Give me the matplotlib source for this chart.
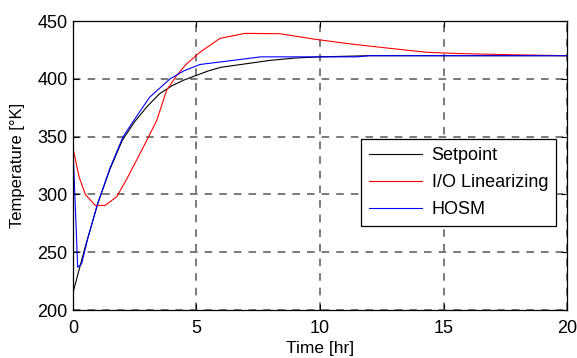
import matplotlib
matplotlib.use("Agg")
import matplotlib.pyplot as plt

plt.rcParams['font.family'] = ['Liberation Sans', 'DejaVu Sans']

# Setpoint trajectory
t_set = [0, 0.5, 1, 1.5, 2, 2.5, 3, 3.5, 4, 4.5, 5, 5.5, 6, 7, 8, 9, 10, 11, 12, 20]
T_set = [215, 255, 292, 322, 347, 363, 376, 387, 394, 399, 403, 407, 410, 413, 416, 418, 419, 419.5, 420, 420]

# I/O linearizing controller response
t_io = [0, 0.25, 0.5, 0.9, 1.3, 1.77, 2.17, 2.85, 3.39, 3.79, 4.2, 4.6, 5.14, 5.95, 6.96, 8.38,
        9.87, 11.3, 13.2, 14.3, 15.4, 17.3, 20]
T_io = [340, 315, 300, 290.5, 290.5, 298, 313, 341, 364, 390, 403, 413, 423, 435, 439.3, 439,
        434, 430, 425.5, 423, 422, 421, 420]

# HOSM controller response
t_hosm = [0, 0.19, 0.35, 0.6, 1, 1.5, 2.03, 2.43, 3.1, 3.93, 4.5, 5.14, 6.5, 7.6, 11.5, 12, 20]
T_hosm = [340, 237, 240, 262, 292, 323, 350, 363, 384, 400, 407, 412.4, 416, 419, 419, 420, 420]

fig = plt.figure(figsize=(5.77, 3.58), dpi=100)
ax = fig.add_axes([0.1265, 0.134, 0.8562, 0.8073])

ax.plot(t_set, T_set, color='black', lw=0.8, label='Setpoint')
ax.plot(t_io, T_io, color='#ff0000', lw=0.8, label='I/O Linearizing')
ax.plot(t_hosm, T_hosm, color='#0000ff', lw=0.8, label='HOSM')

ax.set_xlim(0, 20)
ax.set_ylim(200, 450)
ax.set_xticks([0, 5, 10, 15, 20])
ax.set_yticks([200, 250, 300, 350, 400, 450])
ax.grid(True, color='#707070', linestyle=(0, (4.2, 3.9)), lw=1.3)
ax.tick_params(direction='in', length=4, width=0.8, top=True, right=True, labelsize=13)
ax.tick_params(axis='x', pad=7)
ax.tick_params(axis='y', pad=4)
for s in ax.spines.values():
    s.set_linewidth(0.9)

ax.set_xlabel('Time [hr]', fontsize=12.5, labelpad=3)
ax.set_ylabel('Temperature [°K]', fontsize=12, labelpad=9)

leg = ax.legend(loc='upper right', bbox_to_anchor=(0.978, 0.592), borderaxespad=0,
                fontsize=13, handlelength=2.9, handletextpad=0.55, frameon=True, fancybox=False,
                edgecolor='black', framealpha=1, borderpad=0.45, labelspacing=0.55)
leg.get_frame().set_linewidth(0.9)

fig.savefig('out.png', dpi=100)
